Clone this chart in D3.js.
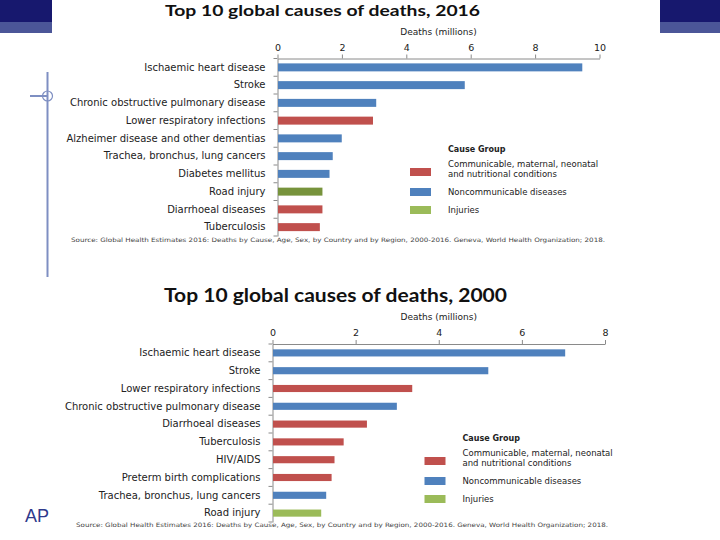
<!DOCTYPE html>
<html>
<head>
<meta charset="utf-8">
<script src="https://cdn.jsdelivr.net/npm/d3@7"></script>
<style>
  body { margin: 0; background: #fff; }
  svg { display: block; }
  text { font-family: 'DejaVu Sans', sans-serif; fill: #222; }
</style>
</head>
<body>
<script>
// values (millions of deaths)
const causes2016 = ['Ischaemic heart disease', 'Stroke', 'Chronic obstructive pulmonary disease', 'Lower respiratory infections',
  'Alzheimer disease and other dementias', 'Trachea, bronchus, lung cancers', 'Diabetes mellitus', 'Road injury',
  'Diarrhoeal diseases', 'Tuberculosis']
const deaths2016 = [9.45, 5.8, 3.05, 2.95, 1.98, 1.7, 1.6, 1.38, 1.38, 1.3]
const groups2016 = ['non', 'non', 'non', 'comm', 'non', 'non', 'non', 'inj', 'comm', 'comm']

const causes2000 = ['Ischaemic heart disease', 'Stroke', 'Lower respiratory infections', 'Chronic obstructive pulmonary disease',
  'Diarrhoeal diseases', 'Tuberculosis', 'HIV/AIDS', 'Preterm birth complications', 'Trachea, bronchus, lung cancers', 'Road injury']
const deaths2000 = [7.03, 5.18, 3.35, 2.98, 2.26, 1.7, 1.48, 1.41, 1.28, 1.16]
const groups2000 = ['non', 'non', 'comm', 'non', 'comm', 'comm', 'comm', 'comm', 'non', 'inj']

const ticks2016 = [0, 2, 4, 6, 8, 10]
const ticks2000 = [0, 2, 4, 6, 8]

const groupKeys = ['comm', 'non', 'inj']
const groupLabels = [['Communicable, maternal, neonatal', 'and nutritional conditions'], ['Noncommunicable diseases'], ['Injuries']]

const source = 'Source: Global Health Estimates 2016: Deaths by Cause, Age, Sex, by Country and by Region, 2000-2016. Geneva, World Health Organization; 2018.'

let width = 720
let height = 540

const groupColor = d3.scaleOrdinal().domain(groupKeys).range(['#c0504d', '#4f81bd', '#9bbb59'])

const svg = d3.select('body').append('svg').attr('width', width).attr('height', height)

// slide decoration
const deco = svg.append('g')
deco.append('rect').attr('x', 0).attr('y', 0).attr('width', 52).attr('height', 22).attr('fill', '#17186e')
deco.append('rect').attr('x', 0).attr('y', 22).attr('width', 52).attr('height', 11).attr('fill', '#4b5698')
deco.append('rect').attr('x', 660).attr('y', 0).attr('width', 60).attr('height', 22).attr('fill', '#17186e')
deco.append('rect').attr('x', 660).attr('y', 22).attr('width', 60).attr('height', 11).attr('fill', '#4b5698')
deco.append('line').attr('x1', 47.5).attr('x2', 47.5).attr('y1', 72).attr('y2', 277).attr('stroke', '#7e8fc2').attr('stroke-width', 2)
deco.append('line').attr('x1', 30).attr('x2', 47.5).attr('y1', 96).attr('y2', 96).attr('stroke', '#7e8fc2').attr('stroke-width', 2)
deco.append('circle').attr('cx', 47.5).attr('cy', 96).attr('r', 5).attr('fill', 'none').attr('stroke', '#7e8fc2').attr('stroke-width', 1.2)
deco.append('text').attr('x', 25).attr('y', 522).text('AP')
  .style('font-family', "'Liberation Sans', sans-serif").style('font-size', '18px').style('fill', '#2e3a8c')

const drawChart = (cfg) => {
  const g = svg.append('g')

  const x = d3.scaleLinear().domain([0, cfg.ticks[cfg.ticks.length - 1]]).range([cfg.x0, cfg.x1])
  const y = d3.scaleBand().domain(cfg.causes).range([cfg.top, cfg.bottom])
    .paddingInner(cfg.pad).paddingOuter(cfg.pad / 2)

  g.append('text').attr('x', cfg.titleX).attr('y', cfg.titleY).text(cfg.title)
    .attr('textLength', cfg.titleW).attr('lengthAdjust', 'spacingAndGlyphs')
    .style('font-family', 'Lato, sans-serif').style('font-weight', 'bold').style('font-size', cfg.titleSize + 'px').style('fill', '#111')

  g.append('text').attr('x', (cfg.x0 + cfg.x1) / 2).attr('y', cfg.top - 24).attr('text-anchor', 'middle')
    .text('Deaths (millions)').style('font-size', '9px')

  // top value axis
  const xAxis = d3.axisTop(x).tickValues(cfg.ticks).tickSize(4).tickSizeOuter(0).tickPadding(4)
  g.append('g').attr('transform', `translate(0,${cfg.top})`).call(xAxis)
    .call(a => a.selectAll('line, path').attr('stroke', '#8a8a8a'))
    .call(a => a.selectAll('text').style('font-family', "'DejaVu Sans', sans-serif").style('font-size', '9.5px').attr('fill', '#222'))

  // category axis, labels only
  const yAxis = d3.axisLeft(y).tickSize(0).tickSizeOuter(0).tickPadding(cfg.labelPad)
  g.append('g').attr('transform', `translate(${cfg.x0},0)`).call(yAxis)
    .call(a => a.selectAll('path').attr('stroke', '#8a8a8a'))
    .call(a => a.selectAll('text').style('font-family', "'DejaVu Sans', sans-serif").style('font-size', '10px').attr('fill', '#222'))

  // separator ticks between categories
  g.selectAll('.sep').data(d3.range(cfg.causes.length + 1)).enter().append('line')
    .attr('x1', cfg.x0 - 4).attr('x2', cfg.x0)
    .attr('y1', i => cfg.top + i * y.step()).attr('y2', i => cfg.top + i * y.step())
    .attr('stroke', '#8a8a8a')

  g.selectAll('.bar').data(cfg.causes).enter().append('rect')
    .attr('x', x(0) + 0.5)
    .attr('y', d => y(d))
    .attr('width', (d, i) => x(cfg.values[i]) - x(0))
    .attr('height', y.bandwidth())
    .attr('fill', (d, i) => cfg.groups[i] === 'inj' && cfg.injuryBar ? cfg.injuryBar : groupColor(cfg.groups[i]))

  // legend
  const lg = g.append('g').attr('transform', `translate(${cfg.legendX},${cfg.legendY})`)
  lg.append('text').attr('x', 38).attr('y', 3).text('Cause Group').style('font-size', '8px').style('font-weight', 'bold')
  const rows = [19, 39, 57]
  groupKeys.forEach((k, i) => {
    lg.append('rect').attr('x', 0).attr('y', rows[i]).attr('width', 21).attr('height', 8).attr('fill', groupColor(k))
    const lines = groupLabels[i]
    lines.forEach((t, j) => {
      lg.append('text').attr('x', 38).attr('y', rows[i] + 7 - (lines.length - 1) * 5 + j * 10 - (lines.length > 1 ? 3 : 0))
        .text(t).style('font-size', '8.5px')
    })
  })

  g.append('text').attr('x', cfg.srcX).attr('y', cfg.srcY).text(source)
    .attr('textLength', cfg.srcW).attr('lengthAdjust', 'spacingAndGlyphs')
    .style('font-size', '6px').style('fill', '#444')
}

drawChart({
  title: 'Top 10 global causes of deaths, 2016', titleX: 165, titleY: 16, titleW: 315, titleSize: 16,
  causes: causes2016, values: deaths2016, groups: groups2016, ticks: ticks2016,
  x0: 277.5, x1: 599.5, top: 58.5, bottom: 236, pad: 0.55, labelPad: 12,
  injuryBar: '#77933c',
  legendX: 410, legendY: 149,
  srcX: 71, srcY: 242, srcW: 534
})

drawChart({
  title: 'Top 10 global causes of deaths, 2000', titleX: 164, titleY: 302, titleW: 343, titleSize: 19,
  causes: causes2000, values: deaths2000, groups: groups2000, ticks: ticks2000,
  x0: 272.5, x1: 605, top: 344, bottom: 522, pad: 0.6, labelPad: 12,
  legendX: 424.5, legendY: 438,
  srcX: 76, srcY: 527, srcW: 532
})
</script>
</body>
</html>
